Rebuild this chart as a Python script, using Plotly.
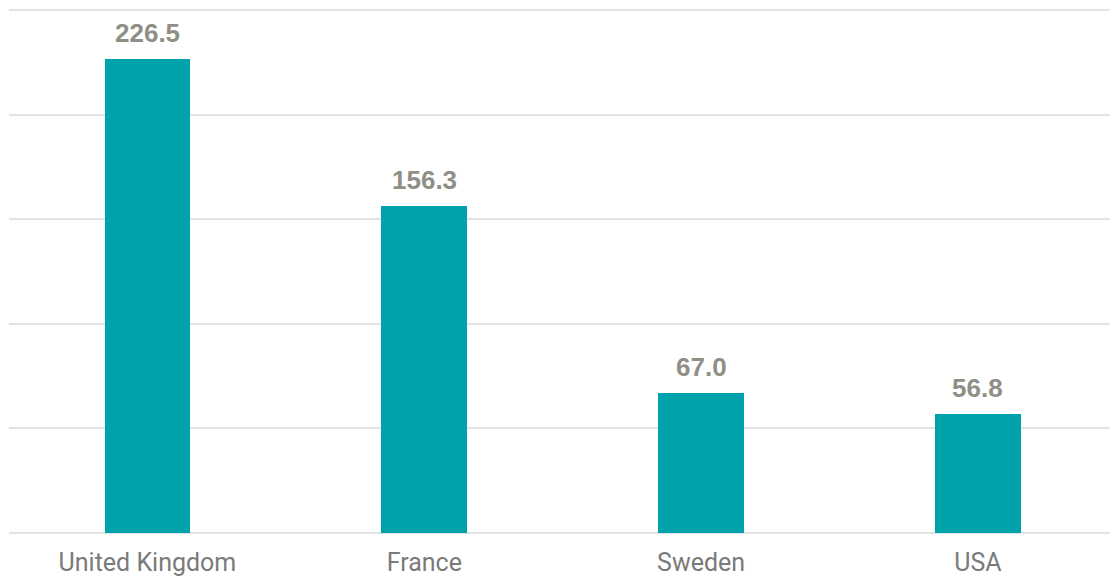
import plotly.graph_objects as go

countries = ["United Kingdom", "France", "Sweden", "USA"]
values = [226.5, 156.3, 67.0, 56.8]

bar_color = "#00A3AC"
label_color = "#8F8F85"
tick_color = "#7A7A7A"

fig = go.Figure(
    go.Bar(
        x=countries,
        y=values,
        marker=dict(color=bar_color, line=dict(width=0)),
        width=0.31,
        hoverinfo="skip",
    )
)

for c, v in zip(countries, values):
    fig.add_annotation(
        x=c, y=v, text=f"<b>{v:.1f}</b>", showarrow=False,
        yanchor="bottom", yshift=9,
        font=dict(family="Liberation Sans, Arial, sans-serif", size=26, color=label_color),
    )

fig.update_layout(
    width=1110, height=576,
    margin=dict(l=9, r=0, t=8, b=43),
    paper_bgcolor="white", plot_bgcolor="white",
    showlegend=False,
    bargap=0,
    xaxis=dict(
        range=[-0.5, 3.477],
        showgrid=False, showline=False, ticks="",
        ticklabelstandoff=12,
        tickfont=dict(family="Roboto, Arial, sans-serif", size=25, color=tick_color),
    ),
    yaxis=dict(
        range=[0, 251], dtick=50,
        showticklabels=False, showline=False, ticks="",
        gridcolor="#E3E3E3", gridwidth=2,
        zeroline=True, zerolinecolor="#E3E3E3", zerolinewidth=2,
    ),
)

fig.write_html("out.html")
